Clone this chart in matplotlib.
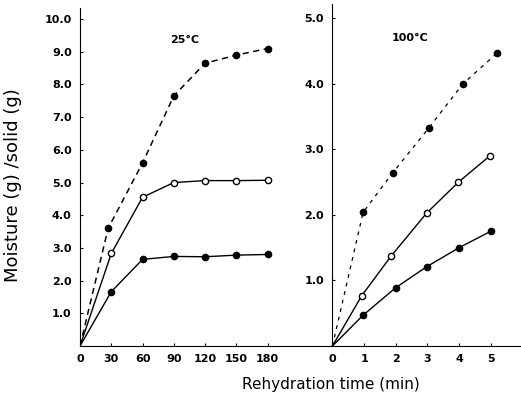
import matplotlib.pyplot as plt

# Дані для 25°C (час у хвилинах)
t_25_dash = [0, 27, 60, 90, 120, 150, 180]
y_25_dash = [0, 3.6, 5.6, 7.65, 8.65, 8.9, 9.1]
t_25_open = [0, 30, 60, 90, 120, 150, 180]
y_25_open = [0, 2.83, 4.55, 5.0, 5.06, 5.06, 5.07]
t_25_solid = [0, 30, 60, 90, 120, 150, 180]
y_25_solid = [0, 1.66, 2.65, 2.74, 2.73, 2.78, 2.8]

# Дані для 100°C (час у хвилинах)
t_100_dash = [0, 0.97, 1.9, 3.05, 4.12, 5.2]
y_100_dash = [0, 2.04, 2.64, 3.33, 4.0, 4.47]
t_100_open = [0, 0.93, 1.85, 2.98, 3.98, 4.97]
y_100_open = [0, 0.77, 1.37, 2.03, 2.5, 2.9]
t_100_solid = [0, 0.97, 2.0, 2.98, 4.0, 5.0]
y_100_solid = [0, 0.47, 0.89, 1.21, 1.5, 1.75]

left_xticks = [0, 30, 60, 90, 120, 150, 180]
left_yticks = [1, 2, 3, 4, 5, 6, 7, 8, 9, 10]
right_xticks = [0, 1, 2, 3, 4, 5]
right_yticks = [1, 2, 3, 4, 5]

fig = plt.figure(figsize=(5.21, 3.97), dpi=100)
ax1 = fig.add_axes([80 / 521, 51 / 397, 198 / 521, 338 / 397])
ax2 = fig.add_axes([278 / 521, 51 / 397, 243 / 521, 342 / 397])

# Ліва панель: 25°C (маркер у точці 0 не малюємо)
ax1.plot(t_25_dash, y_25_dash, color='black', lw=1.1, dashes=(4, 3),
         marker='o', ms=4.5, mfc='black', markevery=list(range(1, 7)))
ax1.plot(t_25_open, y_25_open, color='black', lw=1.0,
         marker='o', ms=4.5, mfc='white', mew=1.0, markevery=list(range(1, 7)))
ax1.plot(t_25_solid, y_25_solid, color='black', lw=1.0,
         marker='o', ms=4.5, mfc='black', markevery=list(range(1, 7)))
ax1.set_xlim(0, 190)
ax1.set_ylim(0, 10.34)
ax1.set_xticks(left_xticks)
ax1.set_xticklabels([str(v) for v in left_xticks])
ax1.set_yticks(left_yticks)
ax1.set_yticklabels([f"{v:.1f}" for v in left_yticks])
ax1.text(0.53, 0.906, '25°C', transform=ax1.transAxes, fontsize=8,
         fontweight='bold', ha='center', va='center')

# Права панель: 100°C
ax2.plot(t_100_dash, y_100_dash, color='black', lw=0.9, dashes=(3, 4),
         marker='o', ms=4.5, mfc='black', markevery=list(range(1, 6)))
ax2.plot(t_100_open, y_100_open, color='black', lw=1.0,
         marker='o', ms=4.5, mfc='white', mew=1.0, markevery=list(range(1, 6)))
ax2.plot(t_100_solid, y_100_solid, color='black', lw=1.0,
         marker='o', ms=4.5, mfc='black', markevery=list(range(1, 6)))
ax2.set_xlim(-1.72, 5.96)
ax2.set_ylim(0, 5.22)
ax2.spines['left'].set_position(('data', 0))
ax2.set_xticks(right_xticks)
ax2.set_xticklabels([str(v) for v in right_xticks])
ax2.set_yticks(right_yticks)
ax2.set_yticklabels([f"{v:.1f}" for v in right_yticks])
ax2.text(0.545, 0.9, '100°C', transform=ax2.transAxes, fontsize=8,
         fontweight='bold', ha='center', va='center')

for ax in (ax1, ax2):
    ax.spines['top'].set_visible(False)
    ax.spines['right'].set_visible(False)
    ax.tick_params(direction='in', length=2.5, width=0.8, pad=6)
    for lbl in ax.get_xticklabels() + ax.get_yticklabels():
        lbl.set_fontsize(8)
        lbl.set_fontweight('bold')

fig.text(13 / 521, 1 - 185 / 397, 'Moisture (g) /solid (g)', rotation=90,
         fontsize=13, ha='center', va='center')
fig.text(331 / 521, 1 - 384 / 397, 'Rehydration time (min)',
         fontsize=11, ha='center', va='center')

plt.savefig('out.png', dpi=100)
